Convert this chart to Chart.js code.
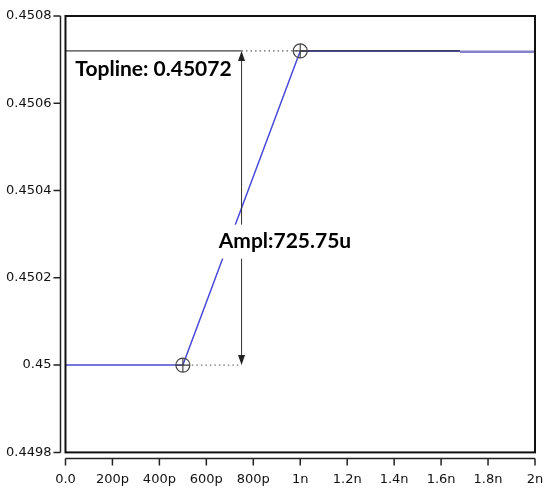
<!DOCTYPE html>
<html lang="en">
<head>
<title>Step response: Topline and amplitude</title>
<meta charset="utf-8"/>
<script src="https://cdn.jsdelivr.net/npm/chart.js"></script>
<style>
html, body {
  margin: 0;
  padding: 0;
  background: #fff;
}
#wrap {
  width: 550px;
  height: 490px;
}
</style>
</head>
<body>
<div id="wrap"><canvas id="chart"></canvas></div>
<script>
"use strict";
// time in ps, level in V
const xTickLabels = ["0.0", "200p", "400p", "600p", "800p", "1n", "1.2n", "1.4n", "1.6n", "1.8n", "2n"];
const yTickLabels = ["0.4498", "0.45", "0.4502", "0.4504", "0.4506", "0.4508"];

const signalTime  = [0, 500, 1000, 1680];
const signalLevel = [0.45, 0.45, 0.45072, 0.45072];
const tailTime    = [1680, 2000];
const tailLevel   = [0.450718, 0.450718];

const toplineTime   = [0, 750];
const toplineDotted = [750, 1000];
const toplineOver   = [1000, 1680];
const toplineLevel  = 0.45072;
const baseDotted    = [500, 750];
const baseLevel     = 0.45;

const markerTime  = [500, 1000];
const markerLevel = [0.45, 0.45072];

const arrowTime = 750;
const toplineText = "Topline: 0.45072";
const amplText = "Ampl:725.75u";

function pts(xs, ys){
  return xs.map((x, i) => ({x: x, y: Array.isArray(ys) ? ys[i] : ys}));
}

const frame = {
  id: "frame",
  afterDatasetsDraw(chart){
    const ctx = chart.ctx;
    const a = chart.chartArea;
    const xs = chart.scales.x;
    const ys = chart.scales.y;
    ctx.save();

    // measurement arrow
    const ax = xs.getPixelForValue(arrowTime);
    const top = ys.getPixelForValue(toplineLevel);
    const bot = ys.getPixelForValue(baseLevel);
    ctx.strokeStyle = "#333";
    ctx.fillStyle = "#222";
    ctx.lineWidth = 1;
    ctx.beginPath();
    ctx.moveTo(ax, top + 4);
    ctx.lineTo(ax, bot - 4);
    ctx.stroke();
    ctx.beginPath();
    ctx.moveTo(ax, top);
    ctx.lineTo(ax - 3.5, top + 10);
    ctx.lineTo(ax + 3.5, top + 10);
    ctx.closePath();
    ctx.fill();
    ctx.beginPath();
    ctx.moveTo(ax, bot);
    ctx.lineTo(ax - 3.5, bot - 10);
    ctx.lineTo(ax + 3.5, bot - 10);
    ctx.closePath();
    ctx.fill();

    // labels
    ctx.font = "bold 21px Lato";
    ctx.textBaseline = "middle";
    ctx.fillStyle = "#000";
    ctx.textAlign = "left";
    ctx.fillText(toplineText, xs.getPixelForValue(42), ys.getPixelForValue(0.450677));

    const lx = xs.getPixelForValue(935);
    const ly = ys.getPixelForValue(0.450283);
    const w = ctx.measureText(amplText).width;
    ctx.fillStyle = "#fff";
    ctx.fillRect(lx - w / 2 - 5, ly - 17, w + 10, 34);
    ctx.fillStyle = "#000";
    ctx.textAlign = "center";
    ctx.fillText(amplText, lx, ly);

    // box around the plot area
    ctx.strokeStyle = "#111";
    ctx.lineWidth = 2;
    ctx.strokeRect(a.left, a.top, a.right - a.left, a.bottom - a.top);

    // detached axis lines with tick marks
    ctx.lineWidth = 1.5;
    ctx.strokeStyle = "#222";
    const yl = a.left - 5;
    ctx.beginPath();
    ctx.moveTo(yl, a.top);
    ctx.lineTo(yl, a.bottom);
    ys.ticks.forEach((t, i) => {
      const py = ys.getPixelForTick(i);
      ctx.moveTo(yl, py);
      ctx.lineTo(yl - 7, py);
    });
    const xl = a.bottom + 6;
    ctx.moveTo(a.left, xl);
    ctx.lineTo(a.right, xl);
    xs.ticks.forEach((t, i) => {
      const px = xs.getPixelForTick(i);
      ctx.moveTo(px, xl);
      ctx.lineTo(px, xl + 7);
    });
    ctx.stroke();
    ctx.restore();
  }
};

new Chart(document.getElementById("chart"), {
  type: "scatter",
  data: {
    datasets: [
      {
        data: pts(toplineOver, toplineLevel),
        showLine: true, borderColor: "#111", borderWidth: 1, pointRadius: 0, order: 1
      },
      {
        data: pts(signalTime, signalLevel),
        showLine: true, borderColor: "#4a4ad8", borderWidth: 1.5, pointRadius: 0, order: 3
      },
      {
        data: pts(tailTime, tailLevel),
        showLine: true, borderColor: "#8282c8", borderWidth: 2.5, pointRadius: 0, order: 3
      },
      {
        data: pts(toplineTime, toplineLevel),
        showLine: true, borderColor: "#111", borderWidth: 1, pointRadius: 0, order: 2
      },
      {
        data: pts(toplineDotted, toplineLevel),
        showLine: true, borderColor: "#333", borderWidth: 1, borderDash: [1.5, 3], pointRadius: 0, order: 2
      },
      {
        data: pts(baseDotted, baseLevel),
        showLine: true, borderColor: "#555", borderWidth: 1, borderDash: [1.5, 3], pointRadius: 0, order: 2
      },
      {
        data: pts(markerTime, markerLevel),
        pointStyle: "circle", pointRadius: 7, borderColor: "#444", borderWidth: 1.2,
        backgroundColor: "rgba(0,0,0,0)", order: 0
      },
      {
        data: pts(markerTime, markerLevel),
        pointStyle: "cross", pointRadius: 7, borderColor: "#444", borderWidth: 1.2, order: 0
      }
    ]
  },
  options: {
    responsive: true,
    maintainAspectRatio: false,
    animation: false,
    layout: {
      padding: {top: 16, right: 15, left: 4, bottom: 0}
    },
    plugins: {
      legend: {display: false},
      tooltip: {enabled: false}
    },
    scales: {
      x: {
        type: "linear",
        min: 0,
        max: 2000,
        border: {display: false},
        grid: {display: false, drawTicks: true, tickLength: 16},
        ticks: {
          stepSize: 200,
          maxRotation: 0,
          autoSkip: false,
          padding: 3,
          color: "#111",
          font: {family: "DejaVu Sans", size: 13},
          callback: (val, index) => xTickLabels[index]
        }
      },
      y: {
        type: "linear",
        min: 0.4498,
        max: 0.4508,
        border: {display: false},
        grid: {display: false, drawTicks: true, tickLength: 12},
        ticks: {
          stepSize: 0.0002,
          autoSkip: false,
          padding: 2,
          color: "#111",
          font: {family: "DejaVu Sans", size: 13},
          callback: (val, index) => yTickLabels[index]
        }
      }
    }
  },
  plugins: [frame]
});
</script>
</body>
</html>
